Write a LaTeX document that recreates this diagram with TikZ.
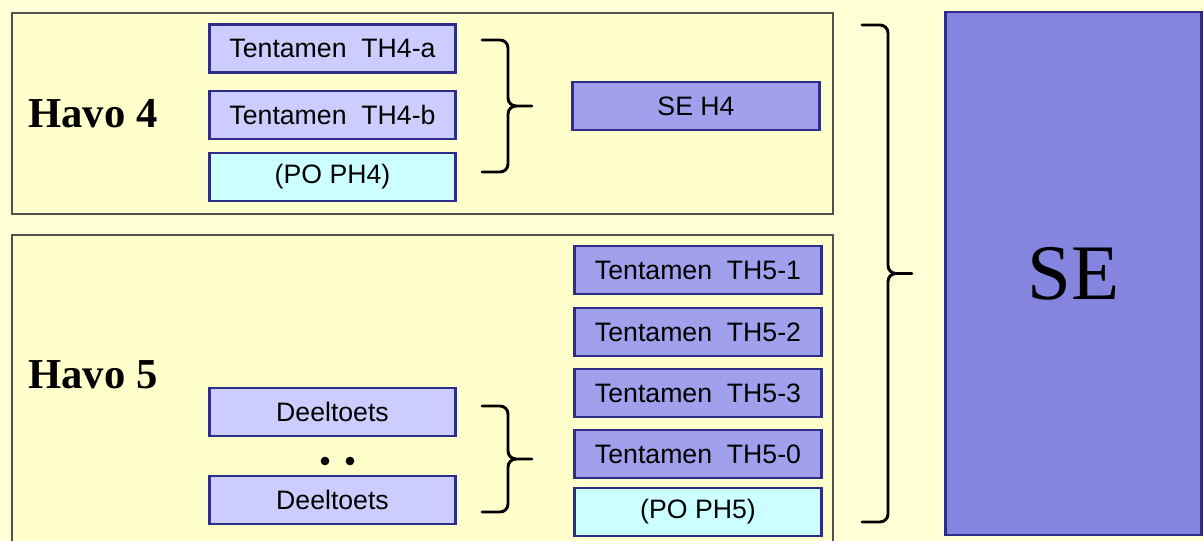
\documentclass[tikz,border=0pt]{standalone}
\usepackage{fontspec}
\setmainfont{Liberation Serif}
\newfontfamily\boxfont{Liberation Sans}
\usetikzlibrary{positioning}

\definecolor{paper}{HTML}{FFFFD6}
\definecolor{yearfill}{HTML}{FFFFCC}
\definecolor{yearedge}{HTML}{505050}
\definecolor{boxedge}{HTML}{2E2E8A}
\definecolor{lightlila}{HTML}{CCCCFF}
\definecolor{midlila}{HTML}{A0A0EC}
\definecolor{pocyan}{HTML}{CCFFFF}
\definecolor{selila}{HTML}{8585E0}

\tikzset{
  year/.style={draw=yearedge,fill=yearfill,line width=0.8pt},
  toets/.style={draw=boxedge,line width=2.2pt,fill=lightlila,minimum width=185pt,minimum height=36pt,inner sep=0pt,font=\boxfont\fontsize{20pt}{23pt}\selectfont},
  tentamen/.style={toets,fill=midlila},
  pobox/.style={toets,fill=pocyan},
  sebox/.style={draw=boxedge,line width=1.6pt,fill=selila,minimum width=192pt,minimum height=392pt,inner sep=0pt,font=\fontsize{59pt}{60pt}\selectfont},
  havo/.style={anchor=west,inner sep=0pt,font=\bfseries\fontsize{32pt}{35pt}\selectfont},
  bracket/.style={draw=black,line width=2.2pt,line cap=round},
  dot/.style={circle,fill=black,minimum size=6.5pt,inner sep=0pt}
}

% right brace: left end, vertical x, top y, bottom y, tip x
\newcommand{\drawbrace}[5]{%
  \draw[bracket] (#1,#3) -- ({#2-8},#3) to[out=0,in=90] (#2,{#3+8}) -- (#2,{(#3+#4)/2-8})
    to[out=-90,in=180] ({#2+8},{(#3+#4)/2}) -- (#5,{(#3+#4)/2});
  \draw[bracket] (#1,#4) -- ({#2-8},#4) to[out=0,in=-90] (#2,{#4-8}) -- (#2,{(#3+#4)/2+8})
    to[out=90,in=180] ({#2+8},{(#3+#4)/2});
}

\begin{document}
\begin{tikzpicture}[x=0.75pt,y=-0.75pt]
	\useasboundingbox[fill=paper] (0,0) rectangle (1204,541); % page size of the reference
	\draw[year] (12,13) rectangle (833,214);% Havo 4 panel
	\draw[year] (12,235) rectangle (833,548);% Havo 5 panel

	\node[havo] (havo4) at (28,114) {Havo 4};
	\node[havo] (havo5) at (28,375) {Havo 5};

	% Havo 4
	\node[toets] (th4a) at (332.5,48.5) {Tentamen\ \ TH4-a};
	\node[toets] (th4b) at (332.5,115) {Tentamen\ \ TH4-b};
	\node[pobox] (po4) at (332.5,177) {(PO PH4)};
	\node[tentamen] (seh4) at (696,106) {SE H4};
	\drawbrace{482}{508}{40}{172}{532}

	% Havo 5
	\node[toets] (deel1) at (332.5,412) {Deeltoets};
	\node[dot] (dotl) at (325,461) {};
	\node[dot] (dotr) at (350,461) {};
	\node[toets] (deel2) at (332.5,500) {Deeltoets};
	\drawbrace{482}{508}{406}{512}{532}

	\foreach \n/\y in {1/270,2/332,3/393,0/454}{
		\node[tentamen] (th5\n) at (698,\y) {Tentamen\ \ TH5-\n};
	}
	\node[pobox] (po5) at (698,512) {(PO PH5)};

	% eindcijfer
	\drawbrace{862}{888}{25}{522}{912}
	\node[sebox] (se) at (1073.5,273.5) {SE};
\end{tikzpicture}
\end{document}
